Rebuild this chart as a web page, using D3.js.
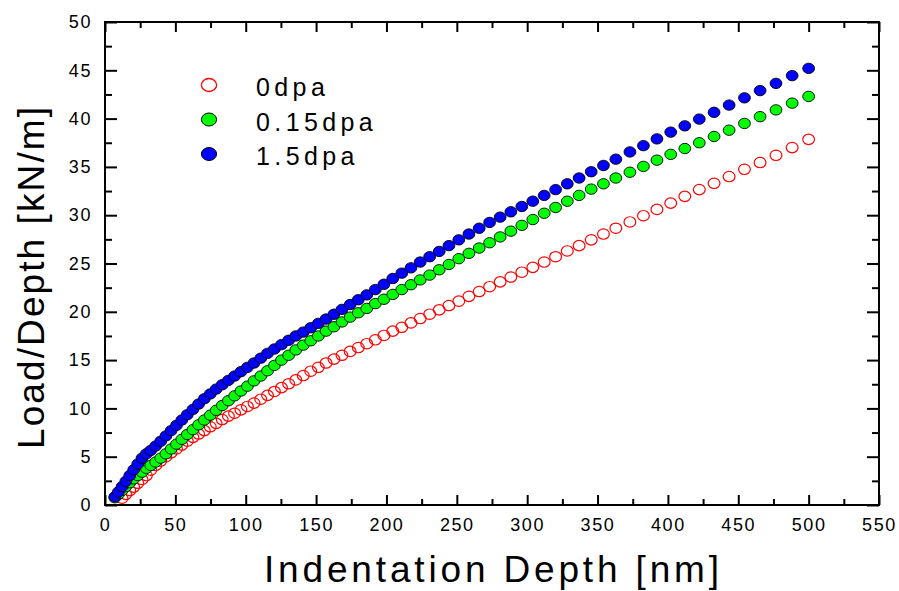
<!DOCTYPE html>
<html>
<head>
<meta charset="utf-8">
<script src="https://cdn.jsdelivr.net/npm/d3@7"></script>
<style>
  html, body { margin: 0; padding: 0; background: #fff; }
  svg { display: block; }
  text { font-family: Arial, "Liberation Sans", Helvetica, sans-serif; fill: #000; }
</style>
</head>
<body>
<svg id="chart" width="899" height="591"></svg>
<script>
// Indentation depth (nm) shared by all three irradiation levels
const depth = [
  7.0, 9.5, 12.1, 14.8, 17.6, 20.4, 23.3, 26.3, 29.4, 32.5,
  36.0, 39.6, 43.3, 47.0, 50.8, 54.6, 58.5, 62.5, 66.5, 70.6,
  74.8, 79.0, 83.3, 87.7, 92.1, 96.6, 101.2, 105.9, 110.7, 115.5,
  120.4, 125.4, 130.5, 135.6, 140.9, 146.2, 151.6, 157.1, 162.7, 168.4,
  174.2, 180.0, 186.0, 192.1, 198.2, 204.5, 210.9, 217.4, 224.0, 230.7,
  237.5, 244.4, 251.4, 258.6, 265.9, 273.3, 280.8, 288.4, 296.2, 304.0,
  312.1, 320.2, 328.5, 336.9, 345.5, 354.2, 363.0, 373.0, 382.6, 392.2,
  402.0, 412.0, 422.3, 432.8, 443.5, 454.4, 465.5, 476.8, 488.3, 500.0
];

// Load/Depth (kN/m), unirradiated; first two depths have no reading
const load0 = [
  null, null, 0.7, 1.1, 1.5, 1.85, 2.25, 2.65, 3.05, 3.6,
  4.1, 4.55, 5.0, 5.4, 5.8, 6.2, 6.6, 7.0, 7.35, 7.7,
  8.1, 8.45, 8.85, 9.2, 9.5, 9.85, 10.2, 10.55, 10.95, 11.35,
  11.75, 12.15, 12.55, 12.95, 13.4, 13.85, 14.25, 14.7, 15.1, 15.5,
  15.9, 16.3, 16.7, 17.1, 17.55, 18.0, 18.4, 18.85, 19.3, 19.75,
  20.2, 20.65, 21.1, 21.6, 22.1, 22.6, 23.1, 23.6, 24.1, 24.6,
  25.15, 25.7, 26.3, 26.85, 27.45, 28.05, 28.65, 29.3, 29.95, 30.6,
  31.25, 31.95, 32.65, 33.3, 34.0, 34.75, 35.45, 36.2, 37.0, 37.85
];

// Load/Depth (kN/m), 0.15 dpa
const load015 = [
  0.75, 1.1, 1.5, 1.9, 2.3, 2.7, 3.05, 3.4, 3.8, 4.1,
  4.45, 4.85, 5.3, 5.8, 6.3, 6.8, 7.3, 7.8, 8.3, 8.8,
  9.3, 9.8, 10.3, 10.8, 11.3, 11.8, 12.3, 12.85, 13.35, 13.9,
  14.45, 15.0, 15.5, 16.05, 16.55, 17.0, 17.5, 18.0, 18.45, 18.95,
  19.45, 19.9, 20.35, 20.85, 21.3, 21.8, 22.3, 22.8, 23.3, 23.8,
  24.35, 24.9, 25.5, 26.05, 26.6, 27.15, 27.75, 28.35, 28.95, 29.55,
  30.2, 30.8, 31.45, 32.05, 32.7, 33.25, 33.85, 34.45, 35.05, 35.7,
  36.3, 36.9, 37.5, 38.15, 38.8, 39.5, 40.2, 40.9, 41.6, 42.3
];

// Load/Depth (kN/m), 1.5 dpa
const load15 = [
  0.85, 1.35, 1.9, 2.45, 3.05, 3.65, 4.25, 4.85, 5.3, 5.65,
  6.1, 6.6, 7.15, 7.7, 8.25, 8.8, 9.35, 9.9, 10.45, 11.0,
  11.5, 12.0, 12.45, 12.9, 13.35, 13.8, 14.25, 14.7, 15.2, 15.7,
  16.15, 16.6, 17.05, 17.5, 17.9, 18.35, 18.8, 19.25, 19.75, 20.25,
  20.75, 21.25, 21.75, 22.3, 22.85, 23.45, 24.0, 24.55, 25.15, 25.7,
  26.25, 26.85, 27.45, 28.05, 28.65, 29.25, 29.8, 30.35, 30.9, 31.45,
  32.05, 32.65, 33.25, 33.85, 34.5, 35.15, 35.8, 36.55, 37.2, 37.9,
  38.6, 39.25, 39.95, 40.65, 41.4, 42.15, 42.9, 43.65, 44.45, 45.2
];

const seriesNames = ["0dpa", "0.15dpa", "1.5dpa"];
const xTicks = [0, 50, 100, 150, 200, 250, 300, 350, 400, 450, 500, 550];
const yTicks = [0, 5, 10, 15, 20, 25, 30, 35, 40, 45, 50];
const xTitle = "Indentation Depth [nm]";
const yTitle = "Load/Depth [kN/m]";

const styles = [
  { fill: "none", stroke: "#ff0000", sw: 1.2 },
  { fill: "#00ff00", stroke: "#000", sw: 0.9 },
  { fill: "#0000ff", stroke: "#000", sw: 0.9 }
];

const svg = d3.select("#chart");
const m = { left: 105, right: 20, top: 22, bottom: 86 };
const W = 899, H = 591;
const iw = W - m.left - m.right, ih = H - m.top - m.bottom;

const x = d3.scaleLinear().domain([0, 550]).range([m.left, m.left + iw]);
const y = d3.scaleLinear().domain([0, 50]).range([m.top + ih, m.top]);

const xMinor = d3.range(25, 550, 50);
const yMinor = d3.range(2.5, 50, 5);

function styleAxis(g) {
  g.select(".domain").remove();
  g.selectAll(".tick line").attr("stroke", "#000").attr("stroke-width", 2);
  g.selectAll(".tick text")
    .style("font-size", "18px")
    .style("letter-spacing", "1.6px")
    .attr("fill", "#000");
}

// bottom
svg.append("g").attr("transform", `translate(0,${y(0)})`)
  .call(d3.axisBottom(x).tickValues(xTicks).tickSize(-10).tickPadding(13).tickSizeOuter(0))
  .call(styleAxis);
svg.append("g").attr("transform", `translate(0,${y(0)})`)
  .call(d3.axisBottom(x).tickValues(xMinor).tickSize(-6).tickFormat("").tickSizeOuter(0))
  .call(styleAxis);
// top
svg.append("g").attr("transform", `translate(0,${y(50)})`)
  .call(d3.axisTop(x).tickValues(xTicks).tickSize(-10).tickFormat("").tickSizeOuter(0))
  .call(styleAxis);
svg.append("g").attr("transform", `translate(0,${y(50)})`)
  .call(d3.axisTop(x).tickValues(xMinor).tickSize(-6).tickFormat("").tickSizeOuter(0))
  .call(styleAxis);
// left
svg.append("g").attr("transform", `translate(${x(0)},0)`)
  .call(d3.axisLeft(y).tickValues(yTicks).tickSize(-12).tickPadding(13).tickSizeOuter(0))
  .call(styleAxis);
svg.append("g").attr("transform", `translate(${x(0)},0)`)
  .call(d3.axisLeft(y).tickValues(yMinor).tickSize(-7).tickFormat("").tickSizeOuter(0))
  .call(styleAxis);
// right
svg.append("g").attr("transform", `translate(${x(550)},0)`)
  .call(d3.axisRight(y).tickValues(yTicks).tickSize(-12).tickFormat("").tickSizeOuter(0))
  .call(styleAxis);
svg.append("g").attr("transform", `translate(${x(550)},0)`)
  .call(d3.axisRight(y).tickValues(yMinor).tickSize(-7).tickFormat("").tickSizeOuter(0))
  .call(styleAxis);

// frame
svg.append("rect")
  .attr("x", x(0)).attr("y", y(50))
  .attr("width", x(550) - x(0)).attr("height", y(0) - y(50))
  .attr("fill", "none").attr("stroke", "#000").attr("stroke-width", 2);

// data markers
const allSeries = [load0, load015, load15];
allSeries.forEach((vals, si) => {
  const pts = depth.map((d, i) => ({ d, v: vals[i] })).filter(p => p.v != null);
  const st = styles[si];
  svg.append("g").selectAll("ellipse").data(pts).join("ellipse")
    .attr("cx", p => x(p.d)).attr("cy", p => y(p.v))
    .attr("rx", 5.9).attr("ry", 5.2)
    .attr("fill", st.fill).attr("stroke", st.stroke).attr("stroke-width", st.sw);
});

// legend
const leg = svg.append("g");
seriesNames.forEach((name, i) => {
  const cy = 85 + i * 34.5;
  const st = styles[i];
  leg.append("ellipse").attr("cx", 209).attr("cy", cy).attr("rx", 7.6).attr("ry", 6.5)
    .attr("fill", st.fill).attr("stroke", st.stroke).attr("stroke-width", i === 0 ? 1.3 : 1);
  leg.append("text").attr("x", 256).attr("y", cy + 11)
    .style("font-size", "25px").style("letter-spacing", "4.4px").text(name);
});

// axis titles
svg.append("text")
  .attr("x", 491.5).attr("y", 582)
  .attr("text-anchor", "middle")
  .attr("textLength", 455).attr("lengthAdjust", "spacing")
  .style("font-size", "37px")
  .text(xTitle);

svg.append("text")
  .attr("transform", "translate(44,278) rotate(-90)")
  .attr("text-anchor", "middle")
  .attr("textLength", 342).attr("lengthAdjust", "spacing")
  .style("font-size", "37px")
  .text(yTitle);
</script>
</body>
</html>
